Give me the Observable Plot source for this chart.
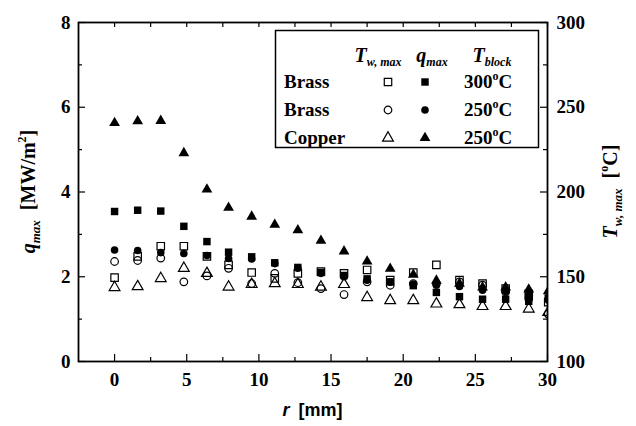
<!DOCTYPE html>
<html><head><meta charset="utf-8">
<script src="https://cdn.jsdelivr.net/npm/d3@7"></script>
<script src="https://cdn.jsdelivr.net/npm/@observablehq/plot@0.6"></script>
<style>body{margin:0;background:#fff}</style>
</head><body><div id="chart"></div>
<script>
// radial position r [mm]
const r = [0,1.6,3.2,4.8,6.4,7.9,9.5,11.1,12.7,14.3,15.9,17.5,19.1,20.7,22.3,23.9,25.5,27.1,28.7,30.05];
// q_max [MW/m2] (filled markers, left axis)
const qBrass300  = [3.54,3.57,3.55,3.19,2.83,2.58,2.47,2.33,2.22,2.10,2.03,1.95,1.88,1.79,1.63,1.53,1.47,1.47,1.42,1.50];
const qBrass250  = [2.63,2.62,2.57,2.55,2.50,2.43,2.42,2.31,2.20,2.08,2.00,1.92,1.87,1.83,1.80,1.77,1.68,1.65,1.58,1.45];
const qCopper250 = [5.63,5.67,5.68,4.92,4.06,3.63,3.42,3.23,3.10,2.85,2.60,2.36,2.19,2.05,1.91,1.84,1.75,1.75,1.70,1.66];
// T_w,max [degC] (open markers, right axis)
const TBrass300  = [149.5,162,168,168,162,157,152.5,149,152,153,152,154,148,152.5,157,148,146,143,140,135];
const TBrass250  = [159,159.6,161,147,150.5,155,146,152,146.5,143,139.5,147,145,146,146,147,145,141,137,128];
const TCopper250 = [143.7,144.2,149,155,152,144,145.5,146,145.5,144,145.5,137.8,136,136,134,133.6,132.5,132.5,131,129];

const leftTicks = [0,2,4,6,8];
const leftMinor = [1,3,5,7];
const rightTickLabels = [100,150,200,250,300];
const rightDomain = [100,300];
const xTicks = [0,5,10,15,20,25,30];
const xMinor = [2.5,7.5,12.5,17.5,22.5,27.5];

const W = 636, H = 426, mL = 78, mR = 89, mT = 22, mB = 65;
const pW = W - mL - mR, pH = H - mT - mB;
const qDomain = [0,8];
// map T onto the q axis (both axes share the same frame)
const t2q = t => qDomain[0] + (t - rightDomain[0]) / (rightDomain[1] - rightDomain[0]) * (qDomain[1] - qDomain[0]);

const rows = (vals, conv) => r.map((x, i) => ({r: x, v: conv ? conv(vals[i]) : vals[i]}));

const serif = "'Liberation Serif', 'Times New Roman', serif";
const sans = "'Liberation Sans', Arial, sans-serif";

const openStyle = {fill: "none", stroke: "black", strokeWidth: 1.2, clip: true};
const fillStyle = {fill: "black", stroke: "none", clip: true};

const plot = Plot.plot({
  width: W, height: H,
  marginLeft: mL, marginRight: mR, marginTop: mT, marginBottom: mB,
  style: {background: "white"},
  x: {domain: [-2.5, 30]},
  y: {domain: qDomain},
  marks: [
    Plot.axisY(leftTicks, {anchor: "left", tickSize: 0, tickPadding: 8, label: null, fontSize: 19}),
    Plot.axisY(leftTicks, {anchor: "right", tickSize: 0, tickPadding: 9, label: null, fontSize: 19,
      tickFormat: d => rightTickLabels[leftTicks.indexOf(d)]}),
    Plot.axisX(xTicks, {anchor: "bottom", tickSize: 0, tickPadding: 11, label: null, fontSize: 19}),
    // inward ticks
    Plot.tickY(leftTicks, {y: d => d, insetRight: pW - 7, stroke: "black", strokeWidth: 1.2}),
    Plot.tickY(leftMinor, {y: d => d, insetRight: pW - 4, stroke: "black", strokeWidth: 1.2}),
    Plot.tickY(leftTicks, {y: d => d, insetLeft: pW - 7, stroke: "black", strokeWidth: 1.2}),
    Plot.tickY(leftMinor, {y: d => d, insetLeft: pW - 4, stroke: "black", strokeWidth: 1.2}),
    Plot.tickX(xTicks, {x: d => d, insetTop: pH - 7, stroke: "black", strokeWidth: 1.2}),
    Plot.tickX(xMinor, {x: d => d, insetTop: pH - 4, stroke: "black", strokeWidth: 1.2}),
    Plot.tickX(xTicks.concat(xMinor), {x: d => d, insetBottom: pH - 5, stroke: "black", strokeWidth: 1.2}),
    // open markers: T_w,max
    Plot.dot(rows(TBrass300, t2q), {x: "r", y: "v", symbol: "square", r: 4.2, ...openStyle}),
    Plot.dot(rows(TBrass250, t2q), {x: "r", y: "v", symbol: "circle", r: 3.8, ...openStyle}),
    Plot.dot(rows(TCopper250, t2q), {x: "r", y: "v", symbol: "triangle", r: 4, ...openStyle}),
    // filled markers: q_max
    Plot.dot(rows(qBrass300), {x: "r", y: "v", symbol: "square", r: 4.2, ...fillStyle}),
    Plot.dot(rows(qBrass250), {x: "r", y: "v", symbol: "circle", r: 3.8, ...fillStyle}),
    Plot.dot(rows(qCopper250), {x: "r", y: "v", symbol: "triangle", r: 4, ...fillStyle}),
    Plot.frame({stroke: "black", strokeWidth: 1.8})
  ]
});
document.getElementById("chart").append(plot);

const svg = d3.select(plot);
// tick-label font (bold Times-like serif), applied inline to every Plot-generated text
svg.selectAll("text")
  .style("font-family", serif).style("font-weight", "bold").style("font-size", "19px").style("fill", "black");

const txt = (sel) => sel.append("text").attr("text-anchor", "start").attr("fill", "black").attr("font-weight", "bold");

// left axis title
const lt = svg.append("text")
  .attr("transform", `translate(35,${mT + pH/2}) rotate(-90)`)
  .attr("text-anchor", "middle")
  .attr("font-family", serif).attr("font-weight", "bold").attr("font-size", 20).attr("fill", "black");
lt.append("tspan").attr("font-style", "italic").text("q");
lt.append("tspan").attr("font-style", "italic").attr("font-size", 13).attr("dy", 5).text("max");
lt.append("tspan").attr("dy", -5).text("\u2002[MW/m");
lt.append("tspan").attr("font-size", 12).attr("dy", -9).text("2");
lt.append("tspan").attr("dy", 9).text("]");

// right axis title
const rt = svg.append("text")
  .attr("transform", `translate(617,${mT + pH/2}) rotate(-90)`)
  .attr("text-anchor", "middle")
  .attr("font-family", serif).attr("font-weight", "bold").attr("font-size", 20).attr("fill", "black");
rt.append("tspan").attr("font-style", "italic").text("T");
rt.append("tspan").attr("font-style", "italic").attr("font-size", 13).attr("dy", 5).text("w, max");
rt.append("tspan").attr("dy", -5).text("\u2002[");
rt.append("tspan").attr("font-size", 12).attr("dy", -9).text("o");
rt.append("tspan").attr("dy", 9).text("C]");

// x axis title
const xt = svg.append("text")
  .attr("x", mL + pW/2).attr("y", 416)
  .attr("text-anchor", "middle")
  .attr("font-family", sans).attr("font-weight", "bold").attr("font-size", 18).attr("fill", "black");
xt.append("tspan").attr("font-style", "italic").text("r");
xt.append("tspan").text("\u2002[mm]");

// legend
const legendRows = [
  {name: "Brass", sym: d3.symbolSquare, size: 4.2*4.2*Math.PI, temp: "300"},
  {name: "Brass", sym: d3.symbolCircle, size: 3.8*3.8*Math.PI, temp: "250"},
  {name: "Copper", sym: d3.symbolTriangle, size: 4*4*Math.PI, temp: "250"}
];
const lg = svg.append("g");
lg.append("rect").attr("x", 275.5).attr("y", 30.5).attr("width", 263).attr("height", 117)
  .attr("fill", "white").attr("stroke", "black").attr("stroke-width", 1.5);
const hdr = (x, main, sub) => {
  const t = lg.append("text").attr("x", x).attr("y", 62).attr("text-anchor", "middle")
    .attr("font-family", serif).attr("font-weight", "bold").attr("font-style", "italic")
    .attr("font-size", 20).attr("fill", "black");
  t.append("tspan").text(main);
  t.append("tspan").attr("font-size", 12).attr("dy", 4).text(sub);
};
hdr(378, "T", "w, max");
hdr(432, "q", "max");
hdr(492, "T", "block");
legendRows.forEach((d, i) => {
  const cy = 82 + i * 28;
  txt(lg).attr("x", 284).attr("y", cy + 6)
    .attr("font-family", serif).attr("font-size", 19)
    .text(d.name);
  lg.append("path").attr("d", d3.symbol(d.sym, d.size)()).attr("transform", `translate(388,${cy})`)
    .attr("fill", "none").attr("stroke", "black").attr("stroke-width", 1.2);
  lg.append("path").attr("d", d3.symbol(d.sym, d.size)()).attr("transform", `translate(425,${cy})`)
    .attr("fill", "black");
  const tt = txt(lg).attr("x", 464).attr("y", cy + 6)
    .attr("font-family", serif).attr("font-size", 19);
  tt.append("tspan").text(d.temp);
  tt.append("tspan").attr("font-size", 12).attr("dy", -8).text("o");
  tt.append("tspan").attr("dy", 8).text("C");
});
</script>
</body></html>
